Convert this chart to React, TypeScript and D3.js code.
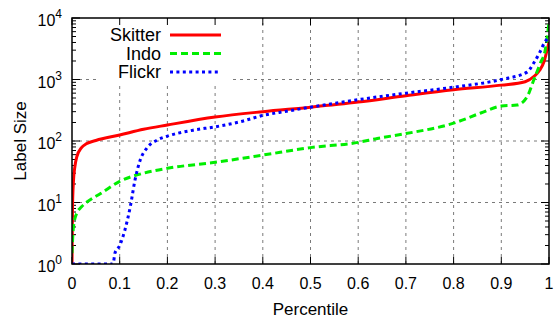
import React from "react";
import * as d3 from "d3";

// Label size distributions by percentile (log scale)
const skitterP = [0, 0.001, 0.003, 0.006, 0.01, 0.02, 0.03, 0.05, 0.1, 0.15, 0.2, 0.3, 0.4, 0.5, 0.6, 0.7, 0.8, 0.9, 0.95, 0.97, 0.98, 0.99, 0.995, 1];
const skitterV = [1, 8, 22, 38, 55, 78, 90, 102, 125, 155, 182, 245, 300, 355, 430, 545, 680, 810, 920, 1150, 1400, 2000, 2800, 4000];

const indoP = [0, 0.003, 0.01, 0.02, 0.03, 0.06, 0.1, 0.15, 0.2, 0.3, 0.4, 0.5, 0.6, 0.64, 0.7, 0.8, 0.857, 0.9, 0.933, 0.954, 0.968, 0.982, 0.992, 1];
const indoV = [1.5, 4, 6.7, 8.5, 10, 14, 22, 30, 36, 45, 59, 78, 95, 110, 132, 195, 285, 370, 385, 520, 980, 1850, 3000, 8500];

const flickrP = [0, 0.086, 0.09, 0.1, 0.111, 0.122, 0.132, 0.143, 0.157, 0.178, 0.2, 0.254, 0.3, 0.352, 0.4, 0.45, 0.5, 0.55, 0.6, 0.7, 0.8, 0.9, 0.954, 0.968, 0.98, 0.99, 1];
const flickrV = [1, 1, 1.5, 2, 3.6, 8.4, 23, 49, 77, 103, 120, 150, 170, 205, 260, 305, 355, 410, 470, 600, 750, 1000, 1320, 1850, 2700, 3900, 5000];

const xTicks = [0, 0.1, 0.2, 0.3, 0.4, 0.5, 0.6, 0.7, 0.8, 0.9, 1];
const xTickLabels = ["0", "0.1", "0.2", "0.3", "0.4", "0.5", "0.6", "0.7", "0.8", "0.9", "1"];
const yExponents = [0, 1, 2, 3, 4];

const seriesNames = ["Skitter", "Indo", "Flickr"];

const W = 560;
const H = 321;
const M = { left: 72, right: 11, top: 18, bottom: 57 };
const FONT = "'Liberation Sans', Arial, Helvetica, sans-serif";

export default function App() {
  const x = d3.scaleLinear().domain([0, 1]).range([M.left, W - M.right]);
  const y = d3.scaleLog().domain([1, 1e4]).range([H - M.bottom, M.top]).clamp(true);

  const line = d3
    .line<[number, number]>()
    .x((d) => x(d[0]))
    .y((d) => y(d[1]))
    .curve(d3.curveMonotoneX);

  const series = [
    { name: seriesNames[0], p: skitterP, v: skitterV, color: "#ff0000", dash: "none" },
    { name: seriesNames[1], p: indoP, v: indoV, color: "#00ee00", dash: "7,4" },
    { name: seriesNames[2], p: flickrP, v: flickrV, color: "#0000ff", dash: "3,3.4" },
  ];

  const x0 = M.left;
  const x1 = W - M.right;
  const y0 = H - M.bottom;
  const y1 = M.top;

  const minor: number[] = [];
  for (let e = 0; e < 4; e++) for (let k = 2; k <= 9; k++) minor.push(k * Math.pow(10, e));

  // legend box hides grid behind it
  const legend = { x: 98, y: 22, w: 132, h: 60 };

  return (
    <svg width={W} height={H} style={{ position: "absolute", left: 0, top: 0, background: "#fff" }} fontFamily={FONT}>
      <defs>
        <clipPath id="plot">
          <rect x={x0} y={y1} width={x1 - x0} height={y0 - y1} />
        </clipPath>
      </defs>
      <rect width={W} height={H} fill="#fff" />
      {/* grid */}
      <g stroke="#7a7a7a" strokeWidth={1} strokeDasharray="3,4">
        {xTicks.slice(1, -1).map((t) => (
          <line key={"gx" + t} x1={x(t)} x2={x(t)} y1={y0} y2={y1} />
        ))}
        {yExponents.slice(1, -1).map((e) => (
          <line key={"gy" + e} x1={x0} x2={x1} y1={y(Math.pow(10, e))} y2={y(Math.pow(10, e))} />
        ))}
      </g>
      <rect x={legend.x} y={legend.y} width={legend.w} height={legend.h} fill="#fff" />
      {/* ticks */}
      <g stroke="#000" strokeWidth={1}>
        {xTicks.map((t) => (
          <g key={"tx" + t}>
            <line x1={x(t)} x2={x(t)} y1={y0} y2={y0 - 7} />
            <line x1={x(t)} x2={x(t)} y1={y1} y2={y1 + 7} />
          </g>
        ))}
        {yExponents.map((e) => (
          <g key={"ty" + e}>
            <line x1={x0} x2={x0 + 8} y1={y(Math.pow(10, e))} y2={y(Math.pow(10, e))} />
            <line x1={x1} x2={x1 - 8} y1={y(Math.pow(10, e))} y2={y(Math.pow(10, e))} />
          </g>
        ))}
        {minor.map((v) => (
          <g key={"my" + v}>
            <line x1={x0} x2={x0 + 4} y1={y(v)} y2={y(v)} />
            <line x1={x1} x2={x1 - 4} y1={y(v)} y2={y(v)} />
          </g>
        ))}
      </g>
      {/* series */}
      <g clipPath="url(#plot)" fill="none">
        {series.map((s) => (
          <path
            key={s.name}
            d={line(s.p.map((p, i) => [p, s.v[i]] as [number, number])) || ""}
            stroke={s.color}
            strokeWidth={3}
            strokeDasharray={s.dash}
          />
        ))}
      </g>
      {/* frame */}
      <rect x={x0} y={y1} width={x1 - x0} height={y0 - y1} fill="none" stroke="#000" strokeWidth={1.5} />
      {/* tick labels */}
      <g fontSize={16} fill="#000">
        {xTicks.map((t, i) => (
          <text key={"lx" + t} x={x(t)} y={289} textAnchor="middle">
            {xTickLabels[i]}
          </text>
        ))}
        {yExponents.map((e) => (
          <text key={"ly" + e} x={62} y={y(Math.pow(10, e)) + 8} textAnchor="end">
            10
            <tspan fontSize={12} dy={-8}>
              {e}
            </tspan>
          </text>
        ))}
      </g>
      {/* axis titles */}
      <text x={(x0 + x1) / 2} y={315} textAnchor="middle" fontSize={17}>
        Percentile
      </text>
      <text transform={`translate(26,${(y0 + y1) / 2}) rotate(-90)`} textAnchor="middle" fontSize={17}>
        Label Size
      </text>
      {/* legend */}
      <g fontSize={18}>
        {series.map((s, i) => {
          const ly = 35 + i * 18.5;
          return (
            <g key={"lg" + s.name}>
              <text x={161} y={ly + 6} textAnchor="end">
                {s.name}
              </text>
              <line x1={170} x2={221} y1={ly} y2={ly} stroke={s.color} strokeWidth={3} strokeDasharray={s.dash} />
            </g>
          );
        })}
      </g>
    </svg>
  );
}
